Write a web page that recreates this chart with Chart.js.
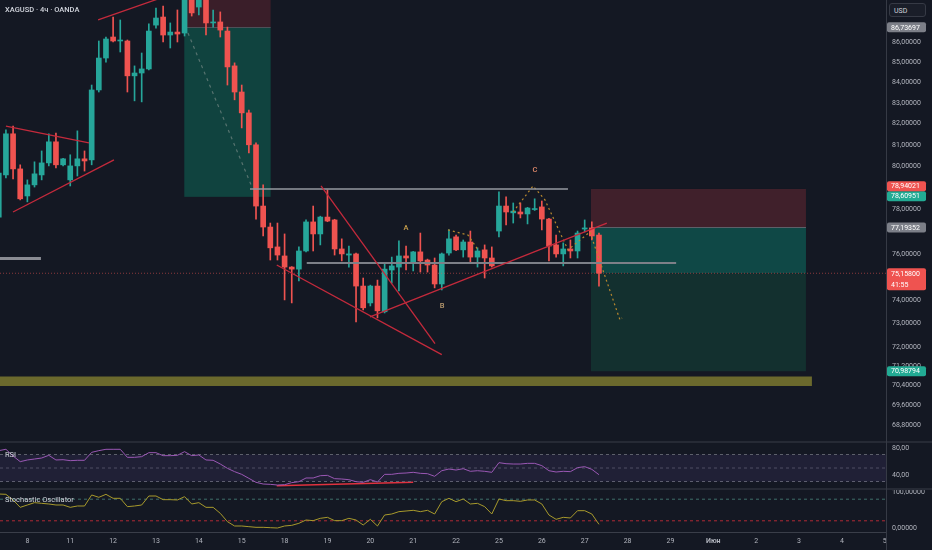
<!DOCTYPE html>
<html>
<head>
<meta charset="utf-8">
<title>XAGUSD 4h</title>
<script src="https://cdn.jsdelivr.net/npm/chart.js@4.4.1/dist/chart.umd.min.js"></script>
<style>
  html, body { margin: 0; padding: 0; background: #141823; }
  #wrap { position: relative; width: 932px; height: 550px; overflow: hidden; background: #141823; font-family: Roboto, "DejaVu Sans", sans-serif; }
  #wrap canvas { position: absolute; left: 0; }
  .txt { position: absolute; color: #d1d4dc; font-size: 7.5px; white-space: nowrap; }
  .sep { position: absolute; background: #262a35; }
  #usd { position: absolute; left: 889px; top: 3px; width: 37px; height: 14px; border: 1px solid #363a45; border-radius: 3px; background: #1a1e29; color: #d1d4dc; font-size: 7px; line-height: 14px; padding-left: 4px; box-sizing: border-box; }
</style>
</head>
<body>
<div id="wrap">
  <canvas id="main" width="932" height="441" style="top:0"></canvas>
  <canvas id="rsi" width="932" height="48" style="top:441px"></canvas>
  <canvas id="stoch" width="932" height="61" style="top:489px"></canvas>
  <div class="sep" style="left:0;top:441px;width:932px;height:2px;"></div>
  <div class="sep" style="left:0;top:488px;width:932px;height:2px;"></div>
  <div class="sep" style="left:0;top:532px;width:886px;height:1px;background:#3a3e49;"></div>
  <div class="sep" style="left:886px;top:0;width:1px;height:550px;background:#363a45;"></div>
  <div class="txt" style="left:5px;top:5px;font-weight:500;">XAGUSD · 4ч · OANDA</div>
  <div class="txt" style="left:5px;top:450px;">RSI</div>
  <div class="txt" style="left:5px;top:495px;">Stochastic Oscillator</div>
  <div id="usd">USD</div>
</div>
<script>
// 4h candles
const opens = [
  77.66, 79.59, 81.52, 79.87, 78.62, 79.13, 79.59, 80.15, 81.14, 80.06,
  79.36, 80.01, 80.34, 80.29, 83.63, 85.20, 86.25, 86.05, 86.05, 84.32,
  84.46, 84.66, 86.85, 87.26, 86.35, 86.50, 86.45, 88.60, 87.77, 88.30,
  86.96, 87.01, 86.55, 84.81, 83.53, 82.52, 81.00, 78.16, 77.21, 76.32,
  75.92, 75.43, 75.34, 76.14, 77.44, 76.90, 77.66, 77.53, 76.23, 75.96,
  76.01, 74.60, 73.87, 74.60, 73.49, 75.30, 75.43, 75.92, 75.65, 76.10,
  75.74, 75.52, 74.69, 76.05, 76.77, 76.19, 76.54, 75.87, 76.19, 75.83,
  77.03, 78.16, 77.85, 77.89, 77.80, 78.00, 78.12, 77.57, 76.41, 76.01,
  76.23, 76.14, 77.12, 77.17, 76.85
];
const highs = [
  79.80, 81.71, 81.89, 80.06, 79.36, 80.20, 80.71, 81.52, 81.56, 80.36,
  80.53, 81.66, 80.71, 83.87, 86.05, 86.25, 87.26, 87.11, 86.10, 84.81,
  85.45, 86.91, 87.72, 87.82, 86.96, 87.62, 88.90, 89.00, 88.80, 88.60,
  87.62, 87.52, 86.75, 84.96, 83.87, 82.66, 81.09, 79.13, 77.39, 77.39,
  76.90, 75.45, 76.32, 77.53, 78.16, 77.70, 78.90, 77.56, 76.68, 76.36,
  76.05, 74.95, 74.64, 74.86, 75.61, 75.87, 76.59, 76.36, 76.12, 76.94,
  75.78, 75.83, 76.05, 77.08, 76.85, 76.63, 77.03, 76.28, 76.41, 76.32,
  78.81, 78.58, 78.30, 78.30, 78.10, 78.49, 78.39, 77.60, 76.85, 76.50,
  76.63, 77.03, 77.53, 77.44, 76.94
];
const lows = [
  77.50, 79.45, 79.41, 78.44, 78.35, 79.03, 79.36, 80.01, 79.91, 80.01,
  79.08, 79.54, 79.77, 80.06, 83.53, 85.00, 86.00, 85.50, 83.53, 83.10,
  83.05, 84.61, 86.70, 86.00, 85.70, 86.00, 86.30, 87.31, 87.37, 86.35,
  86.75, 86.25, 83.87, 83.15, 81.80, 80.62, 77.57, 76.81, 75.74, 75.74,
  74.00, 73.87, 74.82, 76.10, 76.14, 76.41, 77.45, 75.96, 75.70, 75.43,
  73.06, 73.57, 73.74, 73.23, 73.44, 74.73, 74.39, 75.30, 75.26, 75.21,
  75.21, 74.52, 74.43, 75.96, 76.15, 75.87, 75.65, 75.43, 74.95, 75.43,
  76.77, 77.30, 77.39, 77.62, 77.35, 77.96, 77.08, 75.70, 75.87, 75.48,
  75.83, 75.83, 76.99, 76.63, 74.60
];
const closes = [
  79.68, 81.52, 79.87, 78.49, 79.13, 79.64, 80.15, 81.14, 80.06, 80.34,
  80.01, 80.34, 80.24, 83.63, 85.20, 86.15, 86.05, 86.10, 84.32, 84.46,
  84.66, 86.55, 87.21, 86.35, 86.50, 86.40, 88.60, 87.47, 88.50, 86.96,
  87.01, 86.60, 84.76, 83.53, 82.52, 81.00, 78.16, 77.21, 76.28, 75.96,
  75.43, 75.34, 76.14, 77.44, 76.90, 77.66, 77.48, 76.23, 76.01, 76.01,
  74.60, 73.66, 74.60, 73.53, 75.34, 75.48, 75.92, 75.83, 76.10, 75.70,
  75.52, 74.69, 76.01, 76.68, 76.19, 76.54, 75.87, 76.14, 75.83, 75.48,
  78.16, 77.89, 77.93, 77.80, 78.07, 78.03, 77.57, 76.36, 76.01, 76.23,
  76.14, 76.94, 77.17, 76.81, 75.158
];
const rsiValues = [
  75.7, 77.7, 67.8, 59.4, 61.9, 63.3, 64.8, 68.8, 61.9, 62.3,
  60.9, 61.4, 61.4, 73.2, 75.7, 77.7, 77.7, 77.7, 65.8, 65.8,
  66.8, 72.7, 72.7, 68.3, 68.3, 68.8, 74.2, 68.3, 69.3, 61.9,
  61.4, 55.9, 49.5, 44.6, 40.6, 34.7, 28.8, 26.3, 25.8, 24.8,
  25.3, 28.3, 29.7, 35.2, 35.2, 38.6, 39.1, 34.2, 33.7, 32.7,
  29.7, 28.8, 32.7, 29.3, 40.6, 40.6, 42.1, 42.6, 43.6, 42.1,
  41.6, 37.7, 46.0, 48.5, 47.0, 49.0, 45.1, 46.0, 45.1, 43.6,
  57.9, 56.4, 55.9, 55.9, 56.9, 56.9, 53.5, 46.0, 44.1, 45.1,
  44.6, 50.5, 52.0, 48.0, 40.1
];
const stochValues = [
  94.4, 93.5, 77.8, 57.4, 63.9, 70.4, 68.5, 66.7, 63.9, 63.9,
  57.4, 61.1, 61.1, 91.7, 85.2, 93.5, 82.4, 82.4, 59.3, 61.1,
  63.9, 88.9, 88.9, 78.7, 78.7, 77.8, 87.0, 66.7, 70.4, 57.4,
  57.4, 40.7, 17.6, 5.6, 5.6, 3.7, 1.9, 1.9, 0.9, 0.0,
  5.6, 7.4, 13.0, 22.2, 20.4, 26.9, 29.6, 20.4, 20.4, 26.9,
  22.2, 8.3, 24.1, 5.6, 36.1, 38.9, 45.4, 47.2, 49.1, 45.4,
  49.1, 38.9, 73.1, 82.4, 73.1, 80.6, 66.7, 68.5, 59.3, 38.9,
  80.6, 75.9, 75.9, 74.1, 77.8, 77.8, 66.7, 36.1, 24.1, 29.6,
  27.8, 48.1, 48.1, 38.9, 10.2
];
const dayTicks = [4, 10, 16, 22, 28, 34, 40, 46, 52, 58, 64, 70, 76, 82, 88, 94, 100, 106, 112, 118, 124];
const dayLabels = ['8', '11', '12', '13', '14', '15', '18', '19', '20', '21', '22', '25', '26', '27', '28', '29', 'Июн', '2', '3', '4', '5'];
const priceTicks = [86, 85, 84, 83, 82, 81, 80, 78, 76, 74, 73, 72, 71.2, 70.4, 69.6, 68.8];
const lastPrice = 75.158;

// drawings, in [candle index, price]
const trendLines = [
  [[13.9, 87.11], [23.26, 88.31]],
  [[1.0, 81.89], [12.62, 81.09]],
  [[1.99, 77.89], [16.12, 80.29]],
  [[45.1, 79.08], [61.05, 72.14]],
  [[38.9, 75.52], [62.0, 71.68]],
  [[51.95, 73.27], [85.1, 77.39]]
];
const levelLines = [[35.16, 79.66, 78.94], [43.1, 94.8, 75.61], [0.17, 5.9, 75.81]];
const tradePath = [[26.48, 86.45], [35.44, 79.03]];
const waveA = [[62.87, 77.08], [65.67, 76.85], [67.07, 76.19]];
const waveC = [[71.97, 77.89], [74.77, 79.08], [76.44, 78.44], [79.66, 76.19], [82.74, 76.99], [83.58, 76.19], [86.94, 73.14], [87.22, 73.23]];
const waveLabels = [[57.0, 77.17, 'A'], [62.03, 73.74, 'B'], [75.05, 79.82, 'C']];
// [from, to, stop, entry, target]
const leftTrade = [25.96, 38.05, 89.2, 86.75, 78.58];
const rightTrade = [82.88, 112.97, 78.94021, 77.19352, 70.98794];
const supportZone = [0.17, 113.8, 70.77, 70.38];
const rsiDivergence = [[38.9, 23.8], [58.0, 28.8]];
const badges = [
  [86.73697, 'gray'], [78.94021, 'red'], [78.60951, 'green'],
  [77.19352, 'gray'], [75.158, 'red', '41:55'], [70.98794, 'green']
];

const xMin = 0.17, xMax = 124.17;
const UP = '#26a69a', DOWN = '#ef5350';
Chart.defaults.font.family = 'Roboto, "DejaVu Sans", sans-serif';
Chart.defaults.color = '#b2b5be';

const fmt = (v, d) => Number(v).toFixed(d).replace('.', ',');
const pts = arr => arr.map(p => ({ x: p[0], y: p[1] }));
function seg(points, color, width, dash) {
  return { type: 'line', data: pts(points), borderColor: color, borderWidth: width,
    borderDash: dash || [], pointRadius: 0, tension: 0, fill: false, order: 0 };
}
function yAxis(extra) {
  return Object.assign({
    position: 'right', bounds: 'data',
    afterFit: s => { s.width = 46; s.paddingTop = 0; s.paddingBottom = 0; },
    grid: { display: false, drawTicks: false }, border: { display: false },
    ticks: { padding: 6, color: '#b2b5be', font: { size: 7 }, autoSkip: false }
  }, extra);
}
const hiddenX = { type: 'linear', min: xMin, max: xMax, offset: false, display: false, bounds: 'data' };
const common = {
  responsive: false, animation: false, events: [],
  layout: { padding: 0, autoPadding: false },
  plugins: { legend: { display: false }, tooltip: { enabled: false } }
};

const idx = opens.map((_, i) => i);
const candleColors = idx.map(i => closes[i] >= opens[i] ? UP : DOWN);

const zonePlugin = {
  id: 'zones',
  beforeDatasetsDraw(chart) {
    const { ctx, chartArea: a, scales: { x, y } } = chart;
    ctx.save();
    ctx.beginPath(); ctx.rect(a.left, a.top, a.width, a.height); ctx.clip();
    const rect = (x0, x1, p0, p1, c) => {
      const X0 = x.getPixelForValue(x0), X1 = x.getPixelForValue(x1);
      const Y0 = y.getPixelForValue(p0), Y1 = y.getPixelForValue(p1);
      ctx.fillStyle = c;
      ctx.fillRect(X0, Math.min(Y0, Y1), X1 - X0, Math.abs(Y1 - Y0));
    };
    const hline = (x0, x1, p, c) => {
      const Y = Math.round(y.getPixelForValue(p)) + 0.5;
      ctx.strokeStyle = c; ctx.lineWidth = 1;
      ctx.beginPath(); ctx.moveTo(x.getPixelForValue(x0), Y); ctx.lineTo(x.getPixelForValue(x1), Y); ctx.stroke();
    };
    const [lf, lt, ls, le, lg] = leftTrade;
    rect(lf, lt, ls, le, '#3a1e29');
    rect(lf, lt, le, lg, '#10433f');
    hline(lf, lt, le, '#4d5058');
    const [rf, rt, rs, re, rg] = rightTrade;
    rect(rf, rt, rs, re, '#40202b');
    rect(rf, rt, re, lastPrice, '#0f4846');
    rect(rf, rt, lastPrice, rg, '#13302f');
    hline(rf, rt, re, '#5d6069');
    rect(supportZone[0], supportZone[1], supportZone[2], supportZone[3], '#6b692d');
    ctx.restore();
  },
  afterDatasetsDraw(chart) {
    const { ctx, scales: { x, y } } = chart;
    ctx.save();
    ctx.font = '500 7.5px Roboto, sans-serif';
    ctx.textAlign = 'center'; ctx.textBaseline = 'middle';
    const cols = ['#c9a04c', '#b99a6e', '#e0896a'];
    waveLabels.forEach((w, i) => {
      ctx.fillStyle = cols[i];
      ctx.fillText(w[2], x.getPixelForValue(w[0]), y.getPixelForValue(w[1]));
    });
    ctx.restore();
  },
  afterDraw(chart) {
    const { ctx, scales: { y } } = chart;
    const fills = { gray: '#7c7f88', red: '#ef5350', green: '#22ab94' };
    const h = 10;
    const items = badges.map(b => {
      const cy = y.getPixelForValue(b[0]);
      return { v: b[0], c: fills[b[1]], sub: b[2], top: cy - h / 2, hh: b[2] ? 2 * h + 2 : h };
    }).sort((a, b) => b.top - a.top);
    for (let i = 1; i < items.length; i++) {
      const below = items[i - 1], it = items[i];
      if (it.top + it.hh > below.top) it.top = below.top - it.hh;
    }
    ctx.save();
    ctx.font = '7px Roboto, sans-serif';
    ctx.textBaseline = 'middle'; ctx.textAlign = 'left';
    items.forEach(it => {
      ctx.fillStyle = it.c;
      ctx.beginPath();
      ctx.roundRect(887, it.top, 39, it.hh, 2);
      ctx.fill();
      ctx.fillStyle = '#ffffff';
      ctx.fillText(fmt(it.v, 5), 891, it.top + h / 2 + 0.5);
      if (it.sub) ctx.fillText(it.sub, 891, it.top + h + 1 + h / 2 + 0.5);
    });
    ctx.restore();
  }
};

const drawingSets = [
  ...trendLines.map(l => seg(l, '#c42a3c', 1.3)),
  ...levelLines.map((l, i) => seg([[l[0], l[2]], [l[1], l[2]]], ['#9598a1', '#7d8088', '#8a8c93'][i], [1.5, 2, 3][i])),
  seg(tradePath, '#56736f', 1.2, [3, 4]),
  seg(waveA, '#b8882e', 1.2, [2, 3]),
  seg(waveC, '#b8882e', 1.2, [2, 3]),
  seg([[xMin, lastPrice], [xMax, lastPrice]], 'rgba(239,83,80,0.55)', 1, [1, 2])
];

new Chart(document.getElementById('main'), {
  type: 'bar',
  data: {
    datasets: [
      { type: 'bar', data: idx.map(i => ({ x: i, y: [lows[i], highs[i]] })), backgroundColor: candleColors,
        barThickness: 1, grouped: false, borderWidth: 0, order: 3 },
      { type: 'bar', data: idx.map(i => ({ x: i, y: [opens[i], closes[i]] })), backgroundColor: candleColors,
        barThickness: 5, minBarLength: 1, grouped: false, borderWidth: 0, order: 2 },
      ...drawingSets
    ]
  },
  options: Object.assign({}, common, {
    scales: {
      x: hiddenX,
      y: yAxis({
        type: 'logarithmic', min: 68.16, max: 88.13,
        afterBuildTicks: s => { s.ticks = priceTicks.map(v => ({ value: v })); },
        ticks: { padding: 6, color: '#b2b5be', font: { size: 7 }, autoSkip: false, callback: v => fmt(v, 5) }
      })
    }
  }),
  plugins: [zonePlugin]
});

const flat = (v, color, dash) => seg([[xMin, v], [xMax, v]], color, 1, dash);

const rsiBand = flat(70, '#5d606b', [3, 3]);
rsiBand.fill = 3;
rsiBand.backgroundColor = 'rgba(126,87,194,0.12)';
new Chart(document.getElementById('rsi'), {
  type: 'line',
  data: {
    datasets: [
      Object.assign(seg(idx.map(i => [i, rsiValues[i]]), '#9a58b4', 1), { order: 0 }),
      rsiBand,
      flat(50, '#4a4d57', [3, 3]),
      flat(30, '#5d606b', [3, 3]),
      seg(rsiDivergence, '#e0323f', 1.5)
    ]
  },
  options: Object.assign({}, common, {
    scales: {
      x: hiddenX,
      y: yAxis({
        type: 'linear', min: 18.9, max: 90,
        afterBuildTicks: s => { s.ticks = [80, 40].map(v => ({ value: v })); },
        ticks: { padding: 6, color: '#b2b5be', font: { size: 7 }, autoSkip: false, callback: v => fmt(v, 2) }
      })
    }
  })
});

new Chart(document.getElementById('stoch'), {
  type: 'line',
  data: {
    datasets: [
      seg(idx.map(i => [i, stochValues[i]]), '#a89a2c', 1),
      flat(80, '#3f6f6a', [3, 3]),
      flat(20, '#b02a36', [3, 3])
    ]
  },
  options: Object.assign({}, common, {
    scales: {
      x: {
        type: 'linear', min: xMin, max: xMax, offset: false, position: 'bottom', bounds: 'data',
        afterFit: s => { s.height = 18; s.paddingLeft = 0; s.paddingRight = 0; },
        afterBuildTicks: s => { s.ticks = dayTicks.map(v => ({ value: v })); },
        grid: { display: false, drawTicks: false }, border: { display: false },
        ticks: {
          autoSkip: false, maxRotation: 0, padding: 5, color: '#b2b5be',
          font: c => ({ size: 7, weight: dayLabels[c.index] === 'Июн' ? 'bold' : 'normal' }),
          callback: (v, i) => dayLabels[i]
        }
      },
      y: yAxis({
        type: 'linear', min: -11.1, max: 108.3,
        afterBuildTicks: s => { s.ticks = [100, 0].map(v => ({ value: v })); },
        ticks: { padding: 6, color: '#b2b5be', font: { size: 7 }, autoSkip: false, callback: v => fmt(v, 5) }
      })
    }
  })
});
</script>
</body>
</html>
